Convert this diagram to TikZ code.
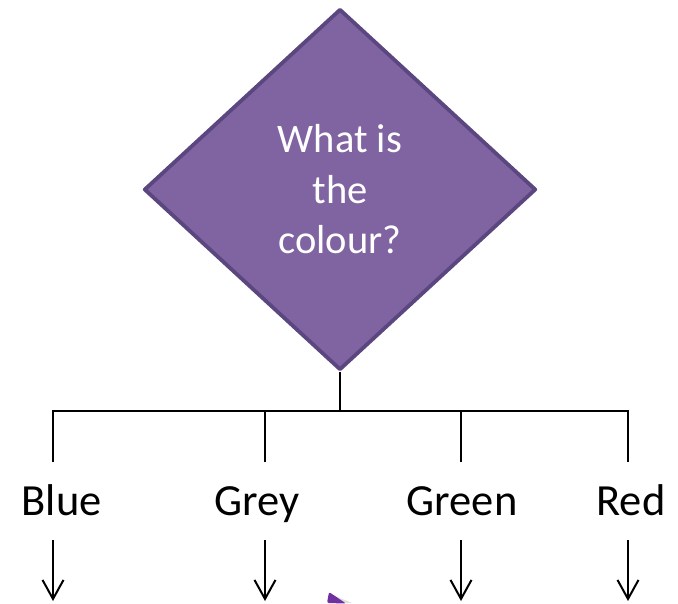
\documentclass[tikz,border=0pt]{standalone}
\usepackage{fontspec}
\setmainfont{Carlito}
\usetikzlibrary{shapes.geometric,arrows.meta}
\definecolor{qfill}{HTML}{8064A2}
\definecolor{qline}{HTML}{5B4780}
\definecolor{pointer}{HTML}{7030A0}
\tikzset{
  question/.style={diamond, draw=qline, fill=qfill, line width=3.8pt,
    line join=round, minimum width=392pt, minimum height=361pt, inner sep=0pt,
    text=white, align=center, font=\fontsize{40.5}{50.5}\selectfont},
  choice/.style={anchor=base, inner sep=0pt, font=\fontsize{44.5}{50}\selectfont},
  wire/.style={line width=2pt, black},
  down/.style={wire, -{Straight Barb[length=19pt,width=21pt,line width=2pt]}}
}
\begin{document}
\begin{tikzpicture}[x=1pt,y=-1pt]
  \useasboundingbox (0,0) rectangle (678,603);

  % decision
  \node[question] (q) at (340,189.5) {What is\\the\\colour?};

  % bus line joining the four answers
  \coordinate (hub) at (340,411);
  \coordinate (busL) at (53,411);
  \coordinate (busR) at (628,411);
  \draw[wire] (q.south) -- (hub);
  \draw[wire] (busL) -- (busR);

  % answers
  \node[choice] (blue)  at (61.7,515) {Blue};
  \node[choice] (grey)  at (256.7,515) {Grey};
  \node[choice] (green) at (462,515) {Green};
  \node[choice] (red)   at (631,515) {Red};

  % drops from the bus and arrows below each answer
  \foreach \n/\x in {blue/53, grey/265, green/461, red/628}{
    \coordinate (\n-top) at (\x,410);
    \coordinate (\n-in)  at (\x,462);
    \coordinate (\n-out) at (\x,540);
    \coordinate (\n-end) at (\x,601);
    \draw[wire] (\n-top) -- (\n-in);
    \draw[down] (\n-out) -- (\n-end);
  }

  % tip of the pointer at the lower edge
  \fill[black!12] (333,595) -- (337,603) -- (352,603) -- cycle;
  \fill[pointer, rounded corners=2pt] (327,603) -- (329,592) -- (346,603.5) -- cycle;
\end{tikzpicture}
\end{document}
